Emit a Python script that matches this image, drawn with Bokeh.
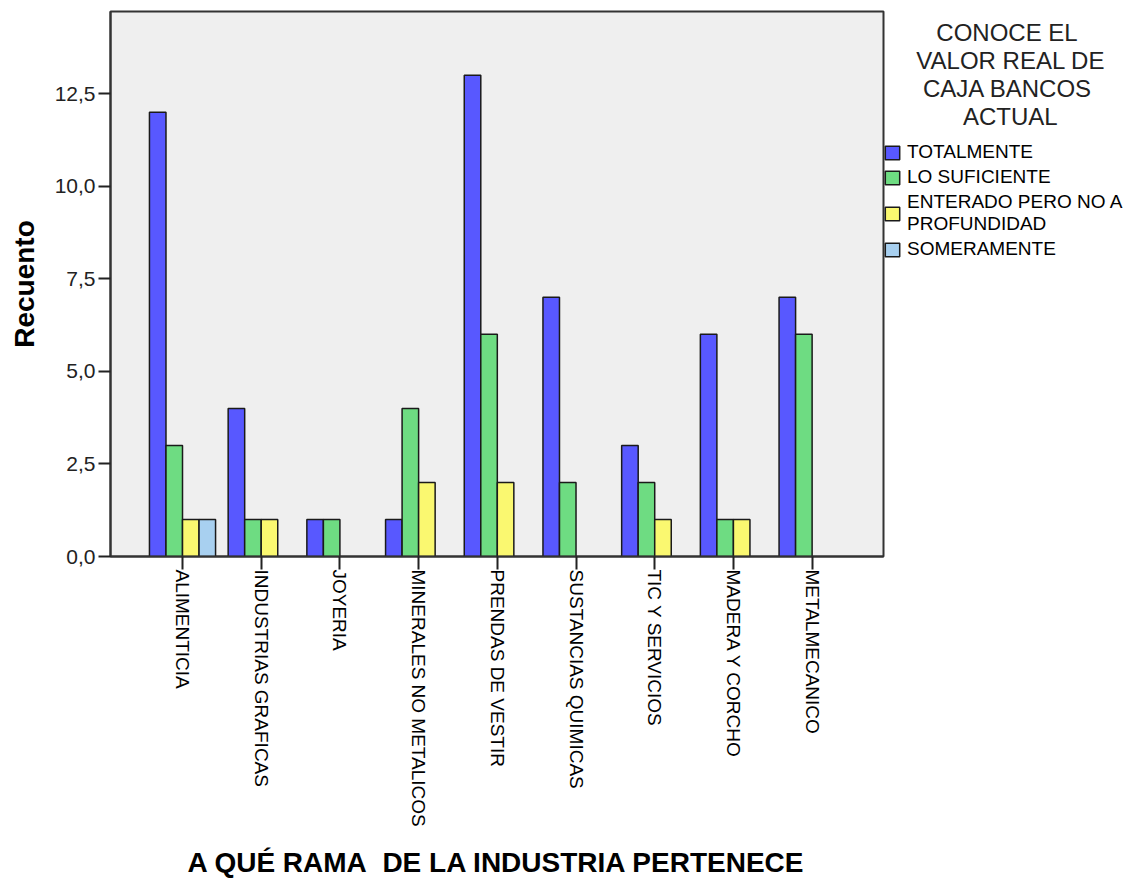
import math
from bokeh.plotting import figure
from bokeh.models import (ColumnDataSource, Range1d, FixedTicker, CustomJSTickFormatter,
                          Legend, LegendItem)
from bokeh.embed import file_html
from bokeh.resources import INLINE

categories = ["ALIMENTICIA", "INDUSTRIAS GRAFICAS", "JOYERIA", "MINERALES NO METALICOS",
              "PRENDAS DE VESTIR", "SUSTANCIAS QUIMICAS", "TIC Y SERVICIOS",
              "MADERA Y CORCHO", "METALMECANICO"]
series_names = ["TOTALMENTE", "LO SUFICIENTE", "ENTERADO PERO NO A\nPROFUNDIDAD", "SOMERAMENTE"]
totalmente = [12, 4, 1, 1, 13, 7, 3, 6, 7]
lo_suficiente = [3, 1, 1, 4, 6, 2, 2, 1, 6]
enterado = [1, 1, 0, 2, 2, 0, 1, 1, 0]
someramente = [1, 0, 0, 0, 0, 0, 0, 0, 0]
series_values = [totalmente, lo_suficiente, enterado, someramente]
colors = ["#5858FF", "#6EDC82", "#FAF870", "#A8D0F0"]
y_ticks = [0, 2.5, 5.0, 7.5, 10.0, 12.5]
legend_title_lines = ["CONOCE EL", "VALOR REAL DE", "CAJA BANCOS", "ACTUAL"]
# leading non-breaking spaces emulate the centred legend title
title_indent = [8, 5, 6, 12]

FONT = "Liberation Sans"
FRAME_W, FRAME_H = 773, 545
xr = Range1d(-0.915, 8.907)
yr = Range1d(0, 14.72)

p = figure(frame_width=FRAME_W, frame_height=FRAME_H, x_range=xr, y_range=yr,
           output_backend="svg", toolbar_location=None,
           min_border_left=110, min_border_top=11, min_border_right=10, min_border_bottom=318)
p.background_fill_color = "#EFEFEF"
p.border_fill_color = "white"
p.outline_line_color = "#333333"
p.outline_line_width = 2
p.xgrid.visible = False
p.ygrid.visible = False

bar_w = 0.21
renderers = []
for j, vals in enumerate(series_values):
    off = (j - 1.5) * bar_w
    xs = [i + off for i, v in enumerate(vals) if v > 0]
    tops = [v for v in vals if v > 0]
    src = ColumnDataSource(dict(x=xs, top=tops))
    r = p.vbar(x="x", top="top", width=bar_w, bottom=0, source=src,
               fill_color=colors[j], line_color="#1a1a1a", line_width=1.5)
    renderers.append(r)

# axes
p.xaxis.ticker = FixedTicker(ticks=list(range(len(categories))))
p.xaxis.major_label_overrides = {i: c for i, c in enumerate(categories)}
p.xaxis.major_label_orientation = -math.pi / 2
p.xaxis.major_label_text_font = FONT
p.xaxis.major_label_text_font_size = "19px"
p.xaxis.major_label_text_color = "black"
p.xaxis.major_tick_out = 13
p.xaxis.major_tick_in = 0
p.xaxis.minor_tick_out = 0
p.xaxis.minor_tick_in = 0
p.xaxis.major_label_standoff = 0
p.xaxis.axis_line_color = "#333333"
p.xaxis.axis_line_width = 2
p.xaxis.major_tick_line_color = "#222222"
p.xaxis.major_tick_line_width = 2
p.xaxis.axis_label = "A QUÉ RAMA\u00a0 DE LA INDUSTRIA PERTENECE"
p.xaxis.axis_label_text_font = FONT
p.xaxis.axis_label_text_font_style = "bold"
p.xaxis.axis_label_text_font_size = "28px"
p.xaxis.axis_label_text_color = "black"
p.xaxis.axis_label_standoff = 17

p.yaxis.ticker = FixedTicker(ticks=y_ticks)
p.yaxis.formatter = CustomJSTickFormatter(code="return tick.toFixed(1).replace('.', ',');")
p.yaxis.major_label_text_font = FONT
p.yaxis.major_label_text_font_size = "21px"
p.yaxis.major_label_text_color = "#222222"
p.yaxis.major_tick_out = 12
p.yaxis.major_tick_in = 0
p.yaxis.minor_tick_out = 0
p.yaxis.minor_tick_in = 0
p.yaxis.major_label_standoff = 3
p.yaxis.axis_line_color = "#333333"
p.yaxis.axis_line_width = 2
p.yaxis.major_tick_line_color = "#222222"
p.yaxis.major_tick_line_width = 2
p.yaxis.axis_label = "Recuento"
p.yaxis.axis_label_text_font = FONT
p.yaxis.axis_label_text_font_style = "bold"
p.yaxis.axis_label_text_font_size = "28px"
p.yaxis.axis_label_text_color = "black"
p.yaxis.axis_label_standoff = 12

# legend in the right panel (tuple location = bottom-left corner, from frame bottom)
legend_title = "\n".join("\u00a0" * n + s for n, s in zip(title_indent, legend_title_lines))
items = [LegendItem(label=series_names[j], renderers=[renderers[j]]) for j in range(4)]
legend = Legend(items=items, location=(0, 296), padding=0, margin=0,
                border_line_color=None, background_fill_alpha=0,
                title=legend_title,
                title_text_font=FONT, title_text_font_size="24px",
                title_text_font_style="normal", title_text_color="#222222",
                title_standoff=10,
                glyph_width=18, glyph_height=17, label_height=19, spacing=3,
                label_standoff=6, label_text_font=FONT, label_text_font_size="19px",
                label_text_color="black")
p.add_layout(legend, "right")

open("out.html", "w").write(file_html(p, INLINE))
